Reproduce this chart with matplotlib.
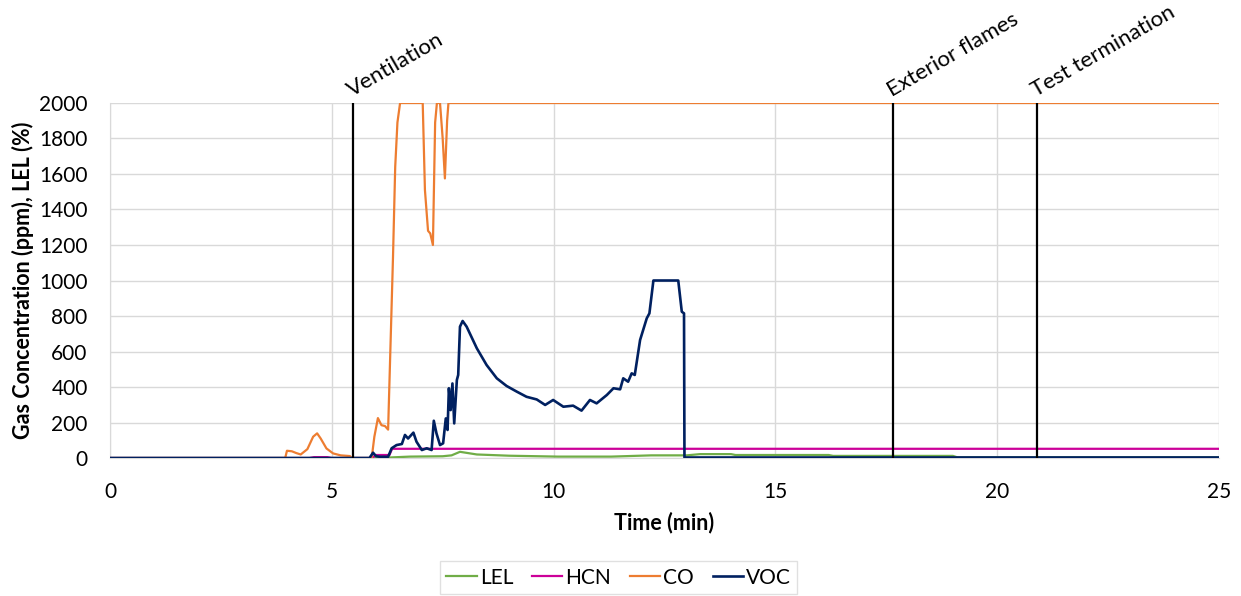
import matplotlib
matplotlib.use("Agg")
import matplotlib.pyplot as plt

plt.rcParams['font.family'] = ['Lato', 'DejaVu Sans']

# ---- data ----
co_t = [0, 3.95, 3.99, 4.1, 4.2, 4.3, 4.45, 4.58, 4.67, 4.75, 4.88, 5.03, 5.2, 5.41, 5.45,
        5.9, 5.96, 6.04, 6.12, 6.2, 6.27, 6.32, 6.38, 6.43, 6.48, 6.54,
        7.05, 7.1, 7.17, 7.22, 7.28, 7.33, 7.37, 7.44, 7.5, 7.55, 7.6, 7.63, 25]
co_v = [0, 0, 41, 38, 28, 20, 50, 120, 139, 110, 54, 26, 15, 11, 0,
        0, 120, 225, 185, 180, 160, 600, 1130, 1640, 1890, 2000,
        2000, 1510, 1280, 1265, 1200, 1890, 2000, 2000, 1800, 1575, 1900, 2000, 2000]

voc_t = [0, 5.85, 5.93, 6.0, 6.09, 6.27, 6.35, 6.46, 6.58, 6.65, 6.72, 6.84, 6.91, 7.03, 7.14,
         7.25, 7.30, 7.36, 7.44, 7.51, 7.57, 7.61, 7.64, 7.68, 7.72, 7.76, 7.82, 7.85, 7.89,
         7.95, 8.04, 8.27, 8.49, 8.72, 8.94, 9.17, 9.39, 9.62, 9.81, 9.99, 10.22, 10.44, 10.63,
         10.82, 10.97, 11.2, 11.35, 11.5, 11.57, 11.68, 11.76, 11.83, 11.95, 12.1, 12.16, 12.25,
         12.81, 12.89, 12.94, 12.95, 25]
voc_v = [0, 0, 30, 10, 7, 7, 55, 73, 79, 130, 110, 143, 92, 45, 55,
         45, 210, 139, 73, 83, 223, 158, 393, 270, 420, 195, 440, 468, 740,
         772, 740, 618, 524, 449, 406, 374, 345, 330, 299, 327, 289, 295, 267,
         327, 308, 355, 393, 387, 449, 430, 477, 468, 665, 787, 815, 1000,
         1000, 824, 815, 3, 3]

hcn_t = [0, 4.5, 4.6, 4.9, 5.0, 5.9, 6.0, 6.3, 6.36, 25]
hcn_v = [0, 0, 5, 5, 0, 0, 17, 17, 52, 52]

lel_t = [0, 5.95, 6.3, 6.76, 7.5, 7.7, 7.89, 8.27, 9.0, 10.1, 11.3, 12.2, 13.0, 13.3, 14.0,
         14.1, 16.2, 16.3, 19.0, 19.1, 25]
lel_v = [0, 0, 3, 8, 10, 15, 35, 20, 13, 8, 8, 15, 15, 22, 22,
         17, 17, 12, 12, 4, 4]

events_t = [5.48, 17.65, 20.9]
events_label = ["Ventilation", "Exterior flames", "Test termination"]

series_names = ["LEL", "HCN", "CO", "VOC"]
series_colors = ["#70AD47", "#CC0099", "#ED7D31", "#002060"]

fig = plt.figure(figsize=(12.41, 5.96), dpi=100)
ax = fig.add_axes([0.0886, 0.2315, 0.8937, 0.5957])

ax.plot(lel_t, lel_v, color=series_colors[0], lw=1.6, label=series_names[0], zorder=3)
ax.plot(hcn_t, hcn_v, color=series_colors[1], lw=1.6, label=series_names[1], zorder=3)
ax.plot(co_t, co_v, color=series_colors[2], lw=1.6, label=series_names[2], zorder=3)
ax.plot(voc_t, voc_v, color=series_colors[3], lw=1.9, label=series_names[3], zorder=4)

for t, lab in zip(events_t, events_label):
    ax.axvline(t, color='black', lw=1.6, zorder=5)
    ax.text(t + 0.03, 2015, lab, rotation=30, rotation_mode='anchor',
            ha='left', va='bottom', fontsize=16)

ax.set_xlim(0, 25)
ax.set_ylim(0, 2000)
ax.set_xticks([0, 5, 10, 15, 20, 25])
ax.set_yticks(range(0, 2001, 200))
ax.grid(True, color='#d9d9d9', lw=1.0, zorder=0)
ax.set_axisbelow(True)
for s in ['top', 'right']:
    ax.spines[s].set_visible(False)
ax.spines['left'].set_color('#d9d9d9')
ax.spines['bottom'].set_color('#d9d9d9')
ax.tick_params(length=0, labelsize=15)
ax.tick_params(axis='y', pad=16)
ax.tick_params(axis='x', pad=17)
ax.set_xlabel("Time (min)", fontsize=15.5, fontweight='bold', labelpad=7)
ax.set_ylabel("Gas Concentration (ppm), LEL (%)", fontsize=15.5, fontweight='bold', labelpad=4)

leg = fig.legend(loc='lower center', bbox_to_anchor=(0.4985, 0.0), ncol=4, fontsize=15,
                 frameon=True, fancybox=False, edgecolor='#d9d9d9', handlelength=1.45,
                 handletextpad=0.15, columnspacing=0.9, borderpad=0.3, borderaxespad=0.1)
leg.get_frame().set_linewidth(1.0)

fig.savefig("out.png", dpi=100)
